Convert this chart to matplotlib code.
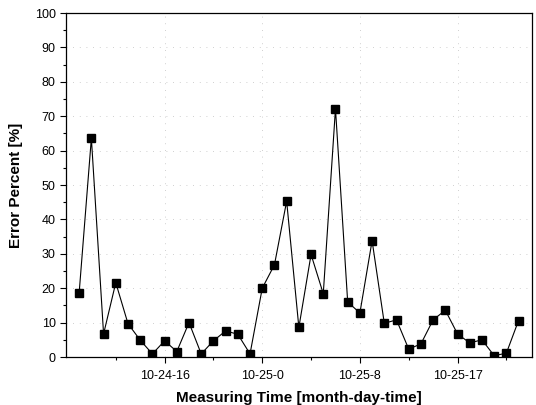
import numpy as np
import matplotlib.pyplot as plt
from matplotlib.ticker import MultipleLocator, FixedLocator

plt.rcParams['font.family'] = ['Liberation Sans', 'DejaVu Sans']

# Error percent per hourly measurement
error_pct = [18.7, 63.6, 6.7, 21.6, 9.7, 4.9, 0.9, 4.7, 1.6, 10.0,
             0.9, 4.7, 7.6, 6.6, 0.9, 20.0, 26.8, 45.3, 8.6, 29.8,
             18.4, 72.2, 16.0, 12.8, 33.8, 9.8, 10.8, 2.3, 3.8, 10.8,
             13.6, 6.7, 4.1, 5.0, 0.4, 1.1, 10.6]
tick_idx = [7, 15, 23, 31]
tick_labels = ['10-24-16', '10-25-0', '10-25-8', '10-25-17']
minor_idx = [3, 11, 19, 27, 35]

x = np.arange(len(error_pct))

fig = plt.figure(figsize=(5.36, 4.05), dpi=100)
ax = fig.add_axes([0.1231, 0.1185, 0.8694, 0.8494])

ax.plot(x, error_pct, color='black', lw=0.8, marker='s', ms=5.5,
        markerfacecolor='black', markeredgecolor='black')

ax.set_xlim(-1.08, 37.1)
ax.set_ylim(0, 100)
ax.yaxis.set_major_locator(MultipleLocator(10))
ax.yaxis.set_minor_locator(MultipleLocator(5))
ax.xaxis.set_major_locator(FixedLocator(tick_idx))
ax.xaxis.set_minor_locator(FixedLocator(minor_idx))
ax.set_xticklabels(tick_labels)

ax.tick_params(axis='both', which='major', direction='out', length=4, width=0.8,
               labelsize=9, top=False, right=False)
ax.tick_params(axis='x', which='major', pad=5)
ax.tick_params(axis='both', which='minor', direction='out', length=2.5, width=0.8,
               top=False, right=False)

ax.grid(True, which='major', color='#c0c0c0', linestyle=(0, (1, 7)), lw=0.6)

for s in ax.spines.values():
    s.set_linewidth(0.9)

ax.set_xlabel('Measuring Time [month-day-time]', fontsize=11, fontweight='bold', labelpad=7)
ax.set_ylabel('Error Percent [%]', fontsize=11, fontweight='bold', labelpad=8)

fig.savefig('out.png', dpi=100)
